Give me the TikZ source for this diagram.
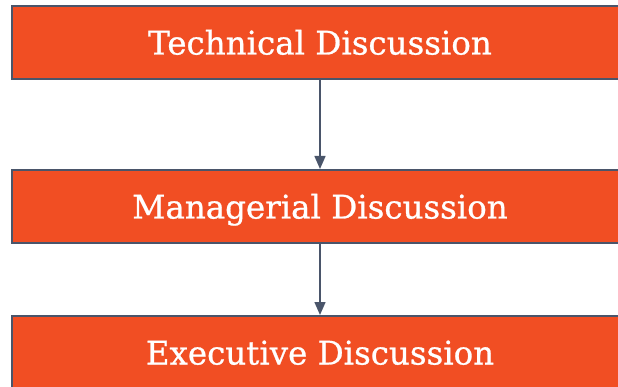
\documentclass[tikz,border=0pt]{standalone}
\usepackage{fontspec}
\setmainfont{DejaVu Serif}
\newfontfamily\stagefont[FakeBold=0.8]{DejaVu Serif}
\usetikzlibrary{arrows.meta}
\definecolor{boxfill}{RGB}{241,78,35}
\definecolor{slate}{RGB}{74,85,106}
\begin{document}
\begin{tikzpicture}[x=1pt,y=-1pt,
  stagebox/.style={draw=slate, line width=2pt, fill=boxfill, minimum width=616pt, minimum height=73pt,
    inner sep=0pt, text=white, font=\stagefont\fontsize{32.5}{38}\selectfont, text height=24pt, text depth=0pt},
  flow/.style={draw=slate, line width=1.5pt, -{Triangle[width=11pt,length=13pt]}}]
\useasboundingbox (0,0) rectangle (618,387);
\clip (0,0) rectangle (618,387);
\node[stagebox] (tech) at (320,42.5) {Technical Discussion};
\node[stagebox] (man) at (320,206.5) {Managerial Discussion};
\node[stagebox] (exec) at (320,352.5) {Executive Discussion};
\draw[flow] (tech.south) -- (man.north);
\draw[flow] (man.south) -- (exec.north);
\end{tikzpicture}
\end{document}
